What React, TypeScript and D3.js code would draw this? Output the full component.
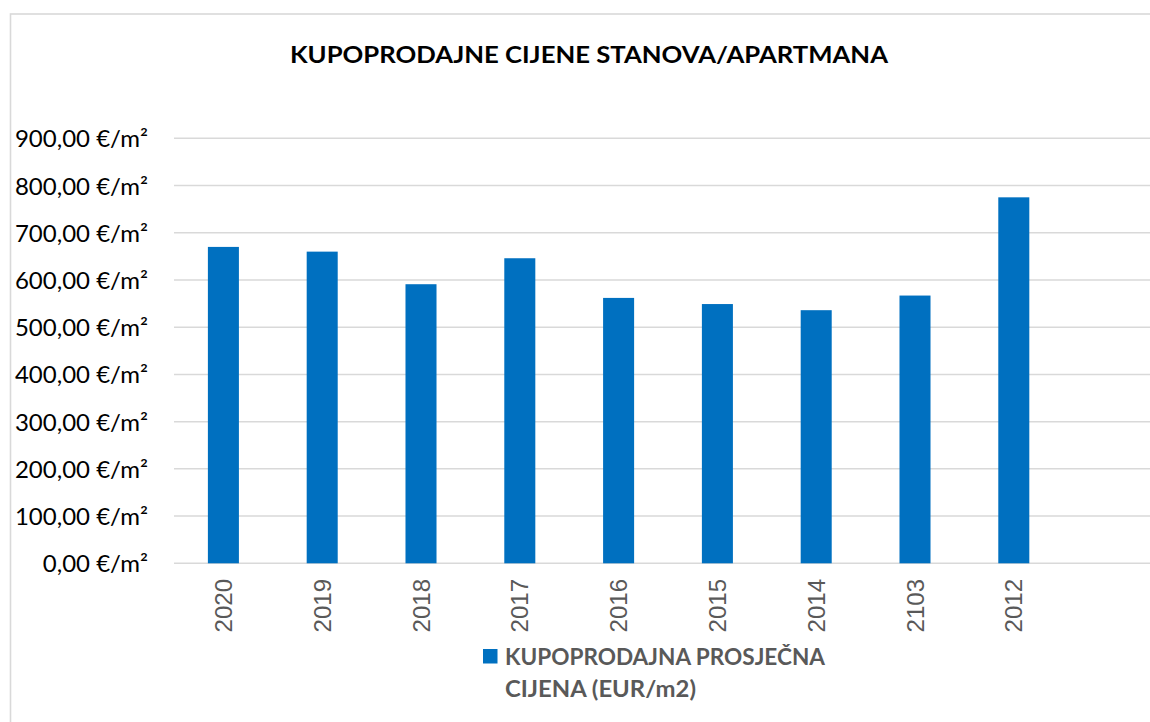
import { useEffect, useRef } from "react";
import * as d3 from "d3";

const categories = ["2020", "2019", "2018", "2017", "2016", "2015", "2014", "2103", "2012"];
const prices = [670, 660, 591, 646, 562, 549, 536, 567, 775];
const yTicks = [0, 100, 200, 300, 400, 500, 600, 700, 800, 900];
const title = "KUPOPRODAJNE CIJENE STANOVA/APARTMANA";
const legendLines = ["KUPOPRODAJNA PROSJEČNA", "CIJENA (EUR/m2)"];

const width = 1150;
const height = 722;
const barColor = "#0070C0";
const gridColor = "#d9d9d9";

const fmt = (v: number) => `${v.toFixed(2).replace(".", ",")} €/m²`;

export default function App() {
  const svgRef = useRef<SVGSVGElement>(null);

  useEffect(() => {
    if (!svgRef.current) return;
    const svg = d3.select(svgRef.current);
    svg.selectAll("*").remove();

    const left = 174;
    const step = 98.8;
    const y = d3.scaleLinear().domain([0, 900]).range([563.3, 138.3]);
    const x = d3
      .scaleBand<string>()
      .domain(categories)
      .range([left, left + step * categories.length])
      .paddingInner(0.686)
      .paddingOuter(0.343);

    // chart border (cropped at right/bottom)
    svg
      .append("rect")
      .attr("x", 10.5)
      .attr("y", 14)
      .attr("width", width + 20)
      .attr("height", height + 20)
      .attr("fill", "white")
      .attr("stroke", gridColor)
      .attr("stroke-width", 1.6);

    svg
      .append("text")
      .attr("x", 589)
      .attr("y", 63)
      .attr("text-anchor", "middle")
      .attr("font-family", "Lato, 'Open Sans', sans-serif")
      .attr("font-weight", "bold")
      .attr("font-size", 23)
      .attr("fill", "#000")
      .attr("textLength", 598)
      .attr("lengthAdjust", "spacingAndGlyphs")
      .text(title);

    // gridlines
    svg
      .append("g")
      .selectAll("line")
      .data(yTicks)
      .join("line")
      .attr("x1", left)
      .attr("x2", width + 20)
      .attr("y1", (d) => y(d))
      .attr("y2", (d) => y(d))
      .attr("stroke", gridColor)
      .attr("stroke-width", 1.5);

    // y labels
    svg
      .append("g")
      .selectAll("text")
      .data(yTicks)
      .join("text")
      .attr("x", 148)
      .attr("y", (d) => y(d) + 9)
      .attr("text-anchor", "end")
      .attr("font-family", "Lato, 'Open Sans', sans-serif")
      .attr("font-size", 24)
      .attr("fill", "#000")
      .text((d) => fmt(d));

    // bars
    svg
      .append("g")
      .selectAll("rect")
      .data(prices)
      .join("rect")
      .attr("x", (_, i) => x(categories[i])!)
      .attr("y", (d) => y(d))
      .attr("width", x.bandwidth())
      .attr("height", (d) => y(0) - y(d))
      .attr("fill", barColor);

    // x labels
    svg
      .append("g")
      .selectAll("text")
      .data(categories)
      .join("text")
      .attr("transform", (d) => `translate(${x(d)! + x.bandwidth() / 2},579) rotate(-90)`)
      .attr("dy", "0.36em")
      .attr("text-anchor", "end")
      .attr("font-family", "'Liberation Sans', Arial, sans-serif")
      .attr("font-size", 24)
      .attr("fill", "#595959")
      .text((d) => d);

    // legend
    const lg = svg.append("g");
    lg.append("rect")
      .attr("x", 483)
      .attr("y", 649)
      .attr("width", 14.5)
      .attr("height", 14.5)
      .attr("fill", barColor);
    lg.selectAll("text")
      .data(legendLines)
      .join("text")
      .attr("x", 505)
      .attr("y", (_, i) => 665 + i * 32)
      .attr("font-family", "Lato, 'Open Sans', sans-serif")
      .attr("font-weight", "bold")
      .attr("font-size", 23)
      .attr("fill", "#595959")
      .attr("textLength", (_, i) => (i === 0 ? 320 : 191))
      .attr("lengthAdjust", "spacingAndGlyphs")
      .text((d) => d);
  }, []);

  return (
    <>
      <style>{"body{margin:0}"}</style>
      <svg ref={svgRef} width={width} height={height} style={{ display: "block" }} />
    </>
  );
}
